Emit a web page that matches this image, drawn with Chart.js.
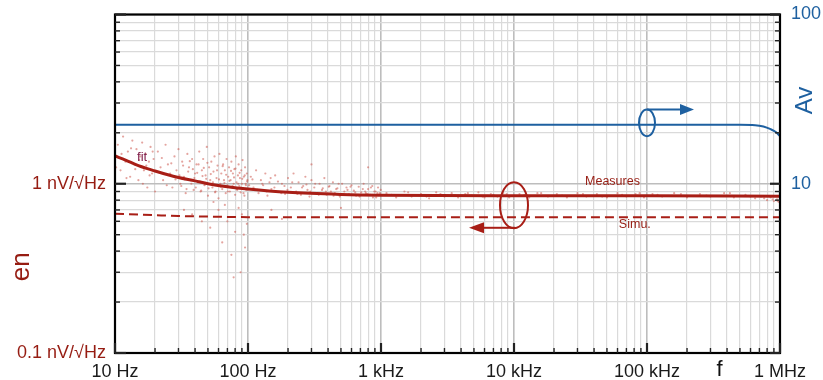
<!DOCTYPE html>
<html><head><meta charset="utf-8">
<script src="https://cdn.jsdelivr.net/npm/chart.js@4"></script>
<style>html,body{margin:0;padding:0;background:#fff}canvas{display:block}</style>
</head><body>
<canvas id="c" width="823" height="380"></canvas>
<script>
// ---------- data ----------
const freqAv = [10, 1000, 100000, 500000, 650000, 750000, 850000, 930000, 1000000];
const avGain = [22.3, 22.3, 22.3, 22.3, 22.2, 21.8, 21.0, 20.2, 19.1];

const freqFit = [10, 12, 15, 20, 25, 30, 40, 50, 70, 100, 200, 500, 1000, 10000, 100000, 1000000];
const enFit   = [1.46, 1.38, 1.28, 1.19, 1.13, 1.09, 1.04, 1.0, 0.96, 0.93, 0.89, 0.865, 0.856, 0.85, 0.85, 0.845];

const freqSim = [10, 20, 30, 50, 100, 1000, 10000, 100000, 1000000];
const enSim   = [0.665, 0.652, 0.645, 0.64, 0.635, 0.635, 0.635, 0.635, 0.635];

const measF = [10.5,11,11.5,12,12.5,13,13.5,14,14.5,15,15.5,16,16.5,17,17.5,18,18.5,19,19.5,20,
 21,22,23,24,25,26,27,28,29,30,31,32,33,34,35,36,37,38,39,40,
 41,42,43,44,45,46,47,48,49,50,51,52,53,54,55,56,57,58,59,60,61,62,63,64,65,66,67,68,69,70,
 71,72,73,74,75,76,77,78,79,80,81,82,83,84,85,86,87,88,89,90,91,92,93,94,95,96,97,98,99,
 45,52,60,64,70,75,80,85,88,90,95,98,78,67,93,55,33,38,
 105,110,115,120,125,130,135,140,145,150,160,170,180,190,200,210,220,230,240,250,260,270,280,290,300,
 315,330,345,360,375,390,405,420,435,450,470,490,510,530,550,575,600,625,650,680,710,740,770,800,830,860,890,920,950,980,
 150,180,300,500,800,
 1100,1300,1500,1700,2000,2300,2600,3000,3400,3800,4300,4800,5400,6000,6700,7500,8300,9200,
 1200,1600,2200,2800,3600,4500,5800,7000,8800,
 11000,13000,15000,18000,21000,25000,30000,35000,42000,50000,60000,70000,82000,95000,
 12000,16000,23000,33000,46000,65000,88000,
 110000,130000,160000,200000,250000,300000,380000,450000,550000,650000,720000,800000,850000,900000,950000,980000,1000000,
 120000,180000,280000,420000,600000,760000,880000,960000,
 30.5,31.5,32.5,33.5,34.5,35.5,36.5,37.5,38.5,39.5,40.5,41.5,42.5,43.5,44.5,45.5,46.5,47.5,48.5,49.5,
 50.5,52.5,54.5,56.5,58.5,60.5,62.5,64.5,66.5,68.5,70.5,72.5,74.5,76.5,78.5,80.5,82.5,84.5,86.5,88.5,90.5,92.5,94.5,96.5,98.5,
 102,108,118,128,138,148,158,168,178,188,198,215,235,255,275,295,320,340,365,385,410,440,460,480,520,560,590,640,690,730,760,790,840,870,910,940,970,995,
 10.2,11.2,12.2,13.2,14.2,15.2,16.2,17.2,18.2,19.2,20.5,22.5,24.5,26.5,28.5];
const measV = [1.7,1.2,1.9,1.35,1.55,1.1,1.8,1.3,1.6,1.05,1.45,1.75,1.2,1.5,0.95,1.35,1.65,1.15,1.4,0.9,
 1.55,1.25,1.05,1.7,1.3,1.15,0.95,1.45,1.2,1.6,1.0,1.35,1.1,0.88,1.5,1.25,1.05,1.4,0.92,1.15,
 1.3,1.02,1.55,0.9,1.2,1.4,0.98,1.12,1.65,0.85,1.25,1.05,1.35,0.95,1.18,1.45,0.9,1.08,1.28,0.82,1.5,1.0,1.15,0.93,1.3,1.05,1.2,0.88,1.4,0.98,
 1.1,1.25,0.9,1.05,1.35,0.95,1.15,1.0,1.22,0.86,1.45,1.02,0.92,1.12,1.3,0.97,1.08,0.89,1.2,1.0,1.38,0.94,1.1,0.85,1.25,1.0,0.92,1.15,1.05,
 0.6,0.55,0.7,0.45,0.6,0.38,0.52,0.72,0.3,0.66,0.42,0.58,0.28,0.75,0.5,0.78,0.7,0.66,
 1.1,0.95,1.2,0.88,1.05,0.98,1.15,0.85,1.02,0.93,1.12,0.9,1.0,0.87,1.08,0.95,1.15,0.9,1.02,0.86,0.97,1.1,0.92,0.84,1.05,
 0.95,0.88,1.0,0.92,1.08,0.86,0.96,0.9,1.02,0.88,0.94,0.84,1.0,0.9,0.95,0.87,0.98,0.91,0.85,0.96,0.89,1.0,0.88,0.93,0.86,0.97,0.9,0.83,0.95,0.88,
 0.7,0.62,1.3,0.72,1.25,
 0.88,0.83,0.9,0.84,0.87,0.82,0.89,0.84,0.88,0.83,0.87,0.85,0.89,0.83,0.87,0.84,0.88,0.83,
 0.86,0.89,0.84,0.87,0.85,0.88,0.84,0.86,0.87,
 0.87,0.83,0.88,0.84,0.87,0.83,0.88,0.84,0.87,0.83,0.88,0.84,0.87,0.83,
 0.86,0.88,0.85,0.87,0.84,0.86,0.88,
 0.87,0.84,0.88,0.83,0.87,0.84,0.88,0.83,0.86,0.82,0.84,0.8,0.83,0.79,0.81,0.78,0.8,
 0.86,0.87,0.85,0.88,0.84,0.82,0.81,0.79,
 1.12,0.97,1.28,1.06,0.93,1.18,1.36,1.0,1.22,1.08,0.95,1.16,1.3,1.03,0.91,1.11,1.24,0.99,1.07,1.33,
 0.94,1.14,1.02,0.89,1.2,1.06,0.96,1.27,1.01,1.13,0.9,1.04,1.19,0.97,1.09,1.23,0.93,1.0,1.16,0.95,1.07,0.88,1.12,0.98,1.03,
 0.98,1.06,0.92,1.0,0.9,1.08,0.95,1.03,0.88,0.97,0.92,1.02,0.87,0.95,0.99,0.9,1.0,0.86,0.94,0.9,0.97,0.85,0.93,1.0,0.87,0.92,0.96,0.89,0.84,0.93,0.9,0.87,0.95,0.83,0.9,0.88,0.86,0.92,
 1.25,1.5,1.08,1.62,1.22,1.38,1.0,1.28,1.12,1.55,1.18,1.42,0.98,1.32,1.06];

// ticks and labels
const decades = [10, 100, 1000, 10000, 100000];
const mults = [1, 2, 3, 4, 5, 6, 7, 8, 9];
const xTickVals = decades.flatMap(d => mults.map(m => d * m)).concat([1000000]);
const enTickVals = [0.1, 1].flatMap(d => mults.map(m => d * m)).concat([10]);
const avTickVals = [1, 10].flatMap(d => mults.map(m => d * m)).concat([100]);
const xLabelVals = [10, 100, 1000, 10000, 100000, 1000000];
const xLabels = ['10 Hz', '100 Hz', '1 kHz', '10 kHz', '100 kHz', '1 MHz'];
const enLabelVals = [0.1, 1];
const enLabels = ['0.1 nV/√Hz', '1 nV/√Hz'];
const avLabelVals = [10, 100];
const avLabels = ['10', '100'];

// ---------- styles ----------
const RED = 'rgb(168,30,22)';
const RED_TXT = 'rgb(150,28,18)';
const BLUE = 'rgb(30,96,160)';
const FONT = '"Liberation Sans", Arial, Helvetica, sans-serif';

const near = (a, b) => Math.abs(a - b) < 1e-9 * Math.max(1, Math.abs(b));
const isDecade = v => Math.abs(Math.log10(v) - Math.round(Math.log10(v))) < 1e-6;
const labelFor = (vals, labs) => v => { const i = vals.findIndex(t => near(t, v)); return i >= 0 ? labs[i] : ''; };
const setTicks = vals => s => { s.ticks = vals.map(v => ({ value: v })); };
const gridColor = c => (c.tick && isDecade(c.tick.value)) ? '#bdbdbd' : '#dadada';
const gridWidth = c => (c.tick && isDecade(c.tick.value)) ? 1.6 : 1.2;
const fitY = w => s => { s.width = w; s.paddingTop = 0; s.paddingBottom = 0; };

const xy = (xs, ys) => xs.map((x, i) => ({ x, y: ys[i] }));

const overlay = {
  id: 'overlay',
  afterDatasetsDraw(chart) {
    const { ctx, chartArea: a, scales: { x, y, yR } } = chart;
    ctx.save();
    // frame
    ctx.strokeStyle = '#000'; ctx.lineWidth = 2.2;
    ctx.strokeRect(a.left, a.top, a.right - a.left, a.bottom - a.top);
    // inward ticks
    ctx.strokeStyle = '#222';
    const tick = (x1, y1, x2, y2, major) => {
      ctx.lineWidth = major ? 2.2 : 1.4;
      ctx.beginPath(); ctx.moveTo(x1, y1); ctx.lineTo(x2, y2); ctx.stroke();
    };
    xTickVals.forEach(v => { const p = x.getPixelForValue(v); const m = isDecade(v); tick(p, a.bottom, p, a.bottom - (m ? 10 : 5), m); });
    enTickVals.forEach(v => { const p = y.getPixelForValue(v); const m = isDecade(v); tick(a.left, p, a.left + (m ? 11 : 5), p, m); });
    avTickVals.forEach(v => { const p = yR.getPixelForValue(v); const m = isDecade(v); tick(a.right, p, a.right - (m ? 10 : 5), p, m); });

    // annotation: red ellipse + left arrow
    ctx.strokeStyle = RED; ctx.fillStyle = RED; ctx.lineWidth = 2;
    let cx = x.getPixelForValue(10000), cy = y.getPixelForValue(0.746);
    ctx.beginPath(); ctx.ellipse(cx, cy, 14, 23, 0, 0, Math.PI * 2); ctx.stroke();
    let ay = cy + 22.5;
    ctx.beginPath(); ctx.moveTo(cx + 1, ay); ctx.lineTo(cx - 31, ay); ctx.stroke();
    ctx.beginPath(); ctx.moveTo(cx - 45, ay); ctx.lineTo(cx - 30, ay - 5.5); ctx.lineTo(cx - 30, ay + 5.5); ctx.closePath(); ctx.fill();

    // annotation: blue ellipse + right arrow
    ctx.strokeStyle = BLUE; ctx.fillStyle = BLUE;
    cx = x.getPixelForValue(100000); cy = yR.getPixelForValue(22.9);
    ctx.beginPath(); ctx.ellipse(cx, cy, 8, 13.3, 0, 0, Math.PI * 2); ctx.stroke();
    ay = cy - 13.3;
    ctx.beginPath(); ctx.moveTo(cx, ay); ctx.lineTo(cx + 34, ay); ctx.stroke();
    ctx.beginPath(); ctx.moveTo(cx + 47, ay); ctx.lineTo(cx + 33, ay - 5.5); ctx.lineTo(cx + 33, ay + 5.5); ctx.closePath(); ctx.fill();

    // in-plot texts
    ctx.textAlign = 'center'; ctx.textBaseline = 'middle';
    ctx.fillStyle = 'rgb(125,25,70)'; ctx.font = '13px ' + FONT;
    ctx.fillText('fit', x.getPixelForValue(16), y.getPixelForValue(1.425));
    ctx.fillStyle = RED_TXT; ctx.font = '12.5px ' + FONT;
    ctx.fillText('Measures', x.getPixelForValue(55000), y.getPixelForValue(1.03));
    ctx.fillText('Simu.', x.getPixelForValue(81000), y.getPixelForValue(0.572));

    // axis titles
    ctx.fillStyle = '#111'; ctx.font = '22px ' + FONT;
    ctx.fillText('f', x.getPixelForValue(351000), a.bottom + 17);
    ctx.fillStyle = RED_TXT; ctx.font = '26px ' + FONT;
    ctx.save(); ctx.translate(a.left - 93, y.getPixelForValue(0.323)); ctx.rotate(-Math.PI / 2); ctx.fillText('en', 0, 0); ctx.restore();
    ctx.fillStyle = BLUE; ctx.font = '24px ' + FONT;
    ctx.save(); ctx.translate(a.right + 25, yR.getPixelForValue(31)); ctx.rotate(-Math.PI / 2); ctx.fillText('Av', 0, 0); ctx.restore();
    ctx.restore();
  }
};

new Chart(document.getElementById('c'), {
  type: 'scatter',
  data: {
    datasets: [
      { label: 'Av', data: xy(freqAv, avGain), yAxisID: 'yR', showLine: true, borderColor: BLUE, borderWidth: 2,
        pointRadius: 0, cubicInterpolationMode: 'monotone', order: 1 },
      { label: 'fit', data: xy(freqFit, enFit), yAxisID: 'y', showLine: true, borderColor: RED, borderWidth: 3,
        pointRadius: 0, cubicInterpolationMode: 'monotone', order: 2 },
      { label: 'Simu.', data: xy(freqSim, enSim), yAxisID: 'y', showLine: true, borderColor: RED, borderWidth: 2,
        borderDash: [9, 5], pointRadius: 0, cubicInterpolationMode: 'monotone', order: 3 },
      { label: 'Measures', data: xy(measF, measV), yAxisID: 'y', showLine: false, pointRadius: 1.1, pointBorderWidth: 0,
        pointBackgroundColor: 'rgba(205,90,80,0.55)', order: 10 }
    ]
  },
  options: {
    responsive: false, animation: false, devicePixelRatio: 1,
    layout: { padding: { top: 14.5, left: 0, right: 0, bottom: 0 } },
    plugins: { legend: { display: false }, tooltip: { enabled: false } },
    scales: {
      x: {
        type: 'logarithmic', min: 10, max: 1000000,
        afterBuildTicks: setTicks(xTickVals),
        afterFit: s => { s.height = 27; s.paddingLeft = 0; s.paddingRight = 0; },
        grid: { color: gridColor, lineWidth: gridWidth, drawTicks: false },
        border: { display: false },
        ticks: { callback: labelFor(xLabelVals, xLabels), autoSkip: false, maxRotation: 0, padding: 8,
                 color: '#1a1a1a', font: { family: FONT, size: 18 } }
      },
      y: {
        type: 'logarithmic', position: 'left', min: 0.1, max: 10,
        afterBuildTicks: setTicks(enTickVals),
        afterFit: fitY(115),
        grid: { color: gridColor, lineWidth: gridWidth, drawTicks: false },
        border: { display: false },
        ticks: { callback: labelFor(enLabelVals, enLabels), autoSkip: false, padding: 9,
                 color: RED_TXT, font: { family: FONT, size: 18 } }
      },
      yR: {
        type: 'logarithmic', position: 'right', min: 1, max: 100,
        afterBuildTicks: setTicks(avTickVals),
        afterFit: fitY(43),
        grid: { display: false, drawTicks: false },
        border: { display: false },
        ticks: { callback: labelFor(avLabelVals, avLabels), autoSkip: false, padding: 11,
                 color: BLUE, font: { family: FONT, size: 18 } }
      }
    }
  },
  plugins: [overlay]
});
</script>
</body></html>
